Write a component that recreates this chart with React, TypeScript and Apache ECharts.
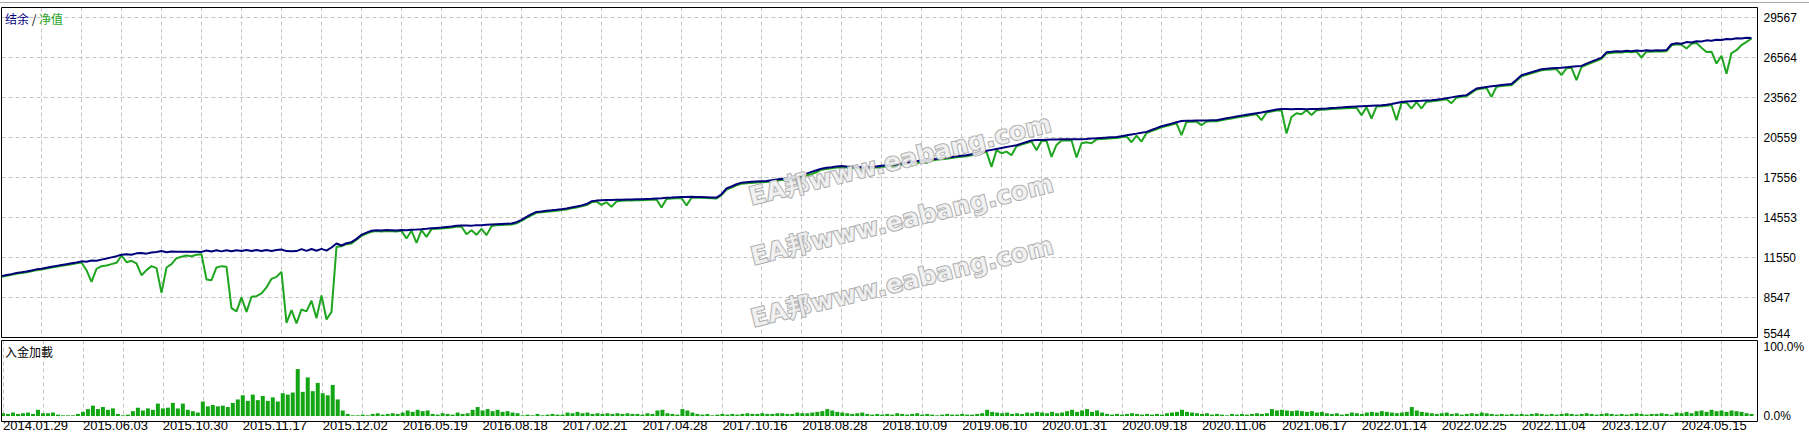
import React, { useEffect, useRef } from 'react';
import * as echarts from 'echarts';

const DATE_LABELS = [
  '2014.01.29', '2015.06.03', '2015.10.30', '2015.11.17', '2015.12.02', '2016.05.19',
  '2016.08.18', '2017.02.21', '2017.04.28', '2017.10.16', '2018.08.28', '2018.10.09',
  '2019.06.10', '2020.01.31', '2020.09.18', '2020.11.06', '2021.06.17', '2022.01.14',
  '2022.02.25', '2022.11.04', '2023.12.07', '2024.05.15',
];
const Y_LABELS = ['5544', '8547', '11550', '14553', '17556', '20559', '23562', '26564', '29567'];
const Y_MIN = 5544;
const Y_STEP = 3002.875;

const BALANCE = [
  10150,10230,10300,10390,10440,10500,10570,10660,10710,10780,
  10850,10920,10990,11050,11110,11170,11260,11230,11320,11300,
  11390,11470,11560,11650,11760,11800,11760,11860,11880,11840,
  11930,11960,12030,11950,12000,11990,11990,11990,11980,11980,
  11970,12080,12000,12090,12010,12100,12020,12100,12030,12110,
  12030,12110,12040,12110,12040,12120,12150,12030,12020,12030,
  12180,12050,12190,12060,12200,12070,12300,12600,12450,12620,
  12700,12950,13250,13420,13560,13600,13580,13610,13600,13580,
  13620,13600,13640,13650,13670,13700,13740,13770,13800,13840,
  13870,13930,13950,13960,13940,13980,13970,14000,14020,14040,
  14060,14080,14100,14200,14380,14600,14800,14970,15010,15060,
  15090,15130,15180,15230,15310,15380,15460,15560,15770,15820,
  15850,15860,15870,15880,15890,15900,15910,15920,15930,15950,
  15960,15980,16000,16030,16050,16080,16100,16100,16110,16100,
  16100,16080,16060,16050,16300,16730,16880,17050,17170,17200,
  17230,17260,17280,17300,17350,17400,17440,17480,17520,17560,
  17700,17850,17980,18100,18220,18280,18330,18390,18410,18380,
  18360,18340,18320,18300,18340,18390,18430,18470,18500,18550,
  18600,18660,18710,18770,18830,18880,18920,18960,19010,19050,
  19100,19150,19190,19230,19300,19380,19470,19560,19630,19700,
  19770,19840,19910,19980,20100,20220,20340,20370,20380,20390,
  20400,20410,20420,20420,20430,20430,20430,20450,20480,20500,
  20530,20550,20580,20600,20660,20720,20790,20850,20920,20980,
  21120,21260,21400,21500,21600,21700,21800,21810,21820,21830,
  21830,21840,21850,21860,21930,22000,22070,22140,22200,22260,
  22320,22380,22430,22510,22590,22660,22690,22690,22680,22690,
  22690,22680,22690,22690,22720,22740,22770,22790,22820,22840,
  22860,22880,22900,22920,22940,22960,22980,23020,23080,23150,
  23230,23260,23280,23300,23310,23330,23350,23400,23450,23510,
  23570,23630,23690,23740,23990,24240,24300,24350,24400,24450,
  24500,24540,24570,24900,25230,25350,25460,25570,25680,25720,
  25750,25780,25800,25840,25870,25900,25930,26100,26250,26400,
  26550,26950,26990,27040,27010,27070,27040,27090,27060,27100,
  27070,27110,27090,27120,27560,27640,27600,27720,27690,27790,
  27760,27850,27820,27900,27880,27960,27930,28010,27990,28040,28030,
];

const EQUITY = [
  10100,10170,10250,10330,10380,10450,10510,10600,10650,10720,
  10790,10860,10930,10990,11050,11110,11180,10596,9718,10700,
  10900,10950,11050,11150,11700,11200,11300,11100,10220,10600,
  10900,10750,8892,10800,11050,11500,11600,11700,11650,11750,
  11800,9900,9850,10800,10900,10850,7750,7500,8550,7466,
  8600,8650,8850,9300,9950,10100,10470,6640,7600,6600,
  7650,7500,8300,7000,8700,6900,7466,12350,12400,12550,
  12600,12880,13180,13350,13480,13530,13500,13540,13520,13500,
  13550,12980,13560,12645,13600,13096,13680,13700,13730,13770,
  13800,13860,13880,13300,13600,13250,13700,13230,13900,13980,
  13990,14010,14030,14120,14300,14520,14720,14900,14940,14990,
  15020,15060,15110,15160,15240,15310,15390,15490,15690,15750,
  15500,15700,15350,15750,15810,15820,15830,15840,15850,15870,
  15880,15900,15300,15950,15970,16000,16020,15450,16040,16030,
  16030,16010,15990,15980,16230,16650,16800,16970,17090,17120,
  17150,17180,17200,17220,17270,17320,17360,17400,17440,17480,
  17620,17700,17820,17950,18140,18200,18250,18310,18330,18300,
  18280,18260,18240,18220,18260,18310,18350,18390,18420,18470,
  18520,18580,18630,18600,18727,18650,18840,18880,18930,18970,
  19020,19070,19110,19150,19220,19300,19390,19480,18351,19600,
  19380,19500,19230,19900,20020,20140,20260,19605,20300,20310,
  19102,20000,20340,20340,20350,19057,20130,20200,20130,20420,
  20450,20470,20500,20520,20580,20640,20200,20700,20250,20900,
  21040,21180,21320,21420,21520,21620,20731,21730,21740,21750,
  21483,21760,21770,21780,21850,21920,21990,22060,22120,22180,
  22240,22300,21857,22430,22510,22580,22610,20858,22100,22380,
  22300,22600,22250,22610,22640,22660,22690,22710,22740,22760,
  22780,22800,22232,22840,21984,22880,22900,22940,23000,21857,
  23150,23180,22735,23220,22735,23250,23270,23320,23370,23430,
  23134,23550,23610,23660,23910,24160,24220,24270,23606,24370,
  24420,24460,24490,24820,25150,25270,25380,25490,25600,25640,
  25670,25700,25235,25760,25790,24860,25850,26020,26170,26320,
  26470,26870,26910,26950,26930,26990,26960,27010,26564,27020,
  26990,27030,27010,27040,27480,27560,27520,27240,27600,27650,
  27300,26985,27000,26114,26700,25350,26900,27112,27500,27735,27990,
];

const LOAD = [
  4,3,5,3,4,5,3,9,4,
  4,5,2,1,1,1,3,
  6,10,15,10,13,9,11,
  3,1,2,
  7,12,8,11,9,18,
  11,12,19,11,18,9,7,5,
  21,14,16,14,15,13,19,
  24,30,22,31,23,29,22,27,21,33,
  31,34,68,35,56,36,48,33,30,45,24,
  8,3,1,
  1,2,1,3,4,2,3,4,3,5,
  8,6,9,7,8,3,
  2,4,3,2,5,3,4,
  9,13,8,10,7,9,6,7,5,4,
  1,2,1,3,1,2,3,2,2,
  5,4,6,4,5,3,4,
  3,4,3,4,3,4,3,3,2,4,3,
  8,9,4,
  3,2,10,8,5,3,
  2,3,1,2,3,2,3,2,3,4,3,
  3,4,3,3,4,4,3,3,5,4,
  4,5,6,7,10,8,6,5,4,3,
  4,5,3,2,3,2,3,2,4,3,
  2,3,4,2,3,2,1,2,3,2,
  2,3,2,2,3,4,9,6,5,
  4,5,3,4,3,5,4,6,5,4,6,
  4,5,7,9,6,8,10,6,8,5,
  3,2,3,2,3,4,3,2,3,2,3,2,
  4,5,6,9,6,5,4,
  3,4,2,3,2,1,3,2,3,2,3,4,3,
  4,10,8,9,8,7,
  8,7,6,7,5,6,4,
  3,4,2,3,5,4,3,
  5,6,5,7,6,5,4,5,
  6,13,8,6,5,
  4,3,4,5,3,4,2,3,4,3,5,4,3,2,3,
  2,3,2,3,2,3,4,3,2,3,2,3,4,3,2,
  3,4,3,2,3,4,3,2,3,2,3,4,3,2,3,
  3,4,3,2,5,4,6,4,7,8,6,9,7,8,6,8,7,6,4,3,
];

const WATERMARK = 'EA邦www.eabang.com';

export default function App() {
  const ref = useRef<HTMLDivElement>(null);
  useEffect(() => {
    const chart = echarts.init(ref.current as HTMLDivElement, null, { renderer: 'svg' });
    const font = '"Liberation Sans", Arial, sans-serif';
    const cjk = '"Noto Sans CJK SC", sans-serif';
    const X_MAX = 351.2;
    const Y_MAX = Y_MIN + 8.25 * Y_STEP;
    const gridLine = { show: true, lineStyle: { color: '#c4c4c4', type: [4, 3], width: 1 } };
    const xLabel = (v: number) => {
      const k = v / 16;
      if (Math.abs(k - Math.round(k)) > 1e-6) return '';
      return DATE_LABELS[Math.round(k)] ?? '';
    };
    const yLabel = (v: number) => {
      const k = (v - Y_MIN) / Y_STEP;
      if (Math.abs(k - Math.round(k)) > 1e-3) return '';
      const idx = Math.round(k);
      const s = Y_LABELS[idx] ?? '';
      return idx === 0 ? `{low|${s}}` : s;
    };
    const wm = (x: number, y: number) => ({
      type: 'text', x, y, rotation: 0.24, z: 50,
      style: {
        text: WATERMARK, fill: 'rgba(240,240,240,0.85)', stroke: '#a6a6a6', lineWidth: 1.6,
        fontSize: 25, fontWeight: 'bold', fontFamily: '"DejaVu Sans", "Noto Sans CJK SC", sans-serif',
        align: 'center', verticalAlign: 'middle',
      },
    });
    chart.setOption({
      animation: false,
      backgroundColor: '#ffffff',
      grid: [
        { left: 1.5, top: 7.5, width: 1756, height: 330, show: false },
        { left: 1.5, top: 340.5, width: 1756, height: 81, show: false },
      ],
      xAxis: [
        {
          type: 'value', gridIndex: 0, min: 0, max: X_MAX, interval: 8,
          axisLine: { show: false }, axisTick: { show: false }, axisLabel: { show: false },
          splitLine: gridLine,
        },
        {
          type: 'value', gridIndex: 1, min: 0, max: X_MAX, interval: 8,
          axisLine: { show: false }, axisTick: { show: false },
          axisLabel: {
            show: true, formatter: xLabel, align: 'left', margin: 3, color: '#000',
            fontSize: 13, fontFamily: font, showMinLabel: true, showMaxLabel: false,
          },
          splitLine: gridLine,
        },
      ],
      yAxis: [
        {
          type: 'value', gridIndex: 0, position: 'right', min: Y_MIN, max: Y_MAX, interval: Y_STEP,
          axisLine: { show: false }, axisTick: { show: false },
          axisLabel: {
            formatter: yLabel, margin: 6, color: '#000', fontSize: 12, fontFamily: font,
            showMaxLabel: false, showMinLabel: true,
            rich: { low: { fontSize: 12, fontFamily: font, color: '#000', padding: [0, 0, 7, 0] } },
          },
          splitLine: gridLine,
        },
        {
          type: 'value', gridIndex: 1, position: 'right', min: 0, max: 81 / 74 * 100, interval: 100,
          axisLine: { show: false }, axisTick: { show: false },
          axisLabel: {
            formatter: (v: number) => (v === 0 ? '0.0%' : v === 100 ? '100.0%' : ''),
            margin: 6, color: '#000', fontSize: 12, fontFamily: font,
          },
          splitLine: { show: false },
        },
      ],
      series: [
        {
          name: '净值', type: 'line', xAxisIndex: 0, yAxisIndex: 0, z: 2,
          data: EQUITY.map((v, i) => [i, v]), showSymbol: false, symbol: 'none',
          lineStyle: { color: '#1fa51f', width: 2 },
        },
        {
          name: '结余', type: 'line', xAxisIndex: 0, yAxisIndex: 0, z: 3,
          data: BALANCE.map((v, i) => [i, v]), showSymbol: false, symbol: 'none',
          lineStyle: { color: '#00007a', width: 2 },
        },
        {
          name: '入金加載', type: 'bar', xAxisIndex: 1, yAxisIndex: 1,
          data: LOAD.map((v, i) => [i, v]), barWidth: 4,
          itemStyle: { color: '#14a514' },
        },
      ],
      graphic: [
        { type: 'rect', z: 100, shape: { x: 0, y: 2, width: 1809, height: 1 }, style: { fill: '#a8a8a8' } },
        { type: 'rect', z: 100, shape: { x: 1.5, y: 7.5, width: 1756, height: 330 }, style: { fill: 'none', stroke: '#000', lineWidth: 1 } },
        { type: 'rect', z: 100, shape: { x: 1.5, y: 340.5, width: 1756, height: 81 }, style: { fill: 'none', stroke: '#000', lineWidth: 1 } },
        {
          type: 'text', x: 5, y: 18, z: 100,
          style: {
            text: '{a|结余} / {b|净值}', fill: '#000', fontSize: 12, fontFamily: cjk, verticalAlign: 'middle',
            rich: { a: { fill: '#000080', fontSize: 12, fontFamily: cjk }, b: { fill: '#1fa51f', fontSize: 12, fontFamily: cjk } },
          },
        },
        { type: 'text', x: 5, y: 351, z: 100, style: { text: '入金加載', fill: '#000', fontSize: 12, fontFamily: cjk, verticalAlign: 'middle' } },
        wm(900, 160),
        wm(902, 220),
        wm(902, 282),
      ],
    });
    return () => chart.dispose();
  }, []);
  return <div ref={ref} style={{ position: 'absolute', left: 0, top: 0, width: 1809, height: 432, background: '#fff' }} />;
}
